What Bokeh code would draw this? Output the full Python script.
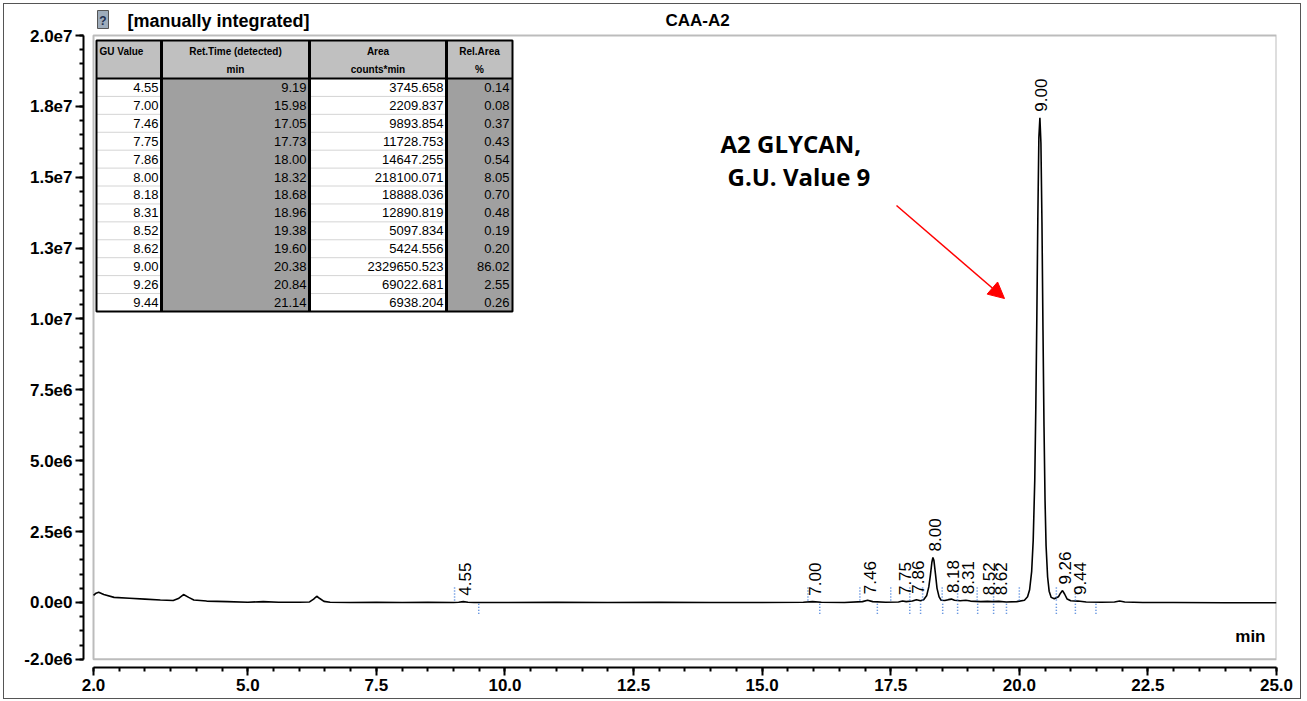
import numpy as np
from bokeh.plotting import figure
from bokeh.layouts import column
from bokeh.models import Range1d, FixedTicker, BoxAnnotation, Arrow, NormalHead
from bokeh.core.properties import value
from bokeh.embed import file_html
from bokeh.resources import INLINE

# ---------------- data ----------------
gu_values = [4.55, 7.00, 7.46, 7.75, 7.86, 8.00, 8.18, 8.31, 8.52, 8.62, 9.00, 9.26, 9.44]
ret_times = [9.19, 15.98, 17.05, 17.73, 18.00, 18.32, 18.68, 18.96, 19.38, 19.60, 20.38, 20.84, 21.14]
areas = [3745.658, 2209.837, 9893.854, 11728.753, 14647.255, 218100.071, 18888.036,
         12890.819, 5097.834, 5424.556, 2329650.523, 69022.681, 6938.204]
rel_areas = [0.14, 0.08, 0.37, 0.43, 0.54, 8.05, 0.70, 0.48, 0.19, 0.20, 86.02, 2.55, 0.26]
# apex heights of the labelled peaks (counts)
peak_heights = [0.03e6, 0.03e6, 0.08e6, 0.05e6, 0.10e6, 1.59e6, 0.12e6, 0.08e6,
                0.04e6, 0.04e6, 17.1e6, 0.42e6, 0.05e6]
# integration delimiters (min)
peak_start = [9.02, 15.89, 16.90, 17.50, 17.87, 18.12, 18.50, 18.80, 19.18, 19.50, 20.00, 20.72, 21.09]
peak_end = [9.49, 16.12, 17.24, 17.87, 18.08, 18.51, 18.80, 19.19, 19.50, 19.75, 20.72, 21.09, 21.49]

# chromatogram trace (min, counts in 1e6)
trace_t = [2.00, 2.05, 2.10, 2.20, 2.40, 2.70, 3.00, 3.30, 3.55, 3.65, 3.75, 3.85, 3.95, 4.20,
           4.60, 5.00, 5.30, 5.60, 6.00, 6.20, 6.28, 6.34, 6.40, 6.48, 6.60, 7.00, 7.50, 8.00,
           8.50, 9.00, 9.10, 9.19, 9.28, 9.40, 10.0, 11.0, 12.0, 13.0, 14.0, 15.0, 15.80, 15.98,
           16.15, 16.60, 16.95, 17.05, 17.15, 17.40, 17.65, 17.73, 17.80, 17.92, 18.00, 18.08,
           18.14, 18.20, 18.24, 18.27, 18.30, 18.32, 18.34, 18.37, 18.40, 18.44, 18.48, 18.55,
           18.62, 18.68, 18.74, 18.85, 18.96, 19.05, 19.25, 19.38, 19.48, 19.60, 19.75, 19.95,
           20.10, 20.16, 20.20, 20.24, 20.27, 20.30, 20.32, 20.34, 20.36, 20.38, 20.40, 20.42,
           20.44, 20.46, 20.48, 20.50, 20.52, 20.55, 20.58, 20.62, 20.68, 20.76, 20.80, 20.84,
           20.88, 20.93, 21.00, 21.14, 21.30, 21.60, 21.85, 21.95, 22.05, 22.40, 23.0, 24.0, 25.0]
trace_y = [0.25, 0.33, 0.36, 0.28, 0.18, 0.15, 0.12, 0.09, 0.07, 0.14, 0.28, 0.18, 0.09, 0.05,
           0.03, 0.01, 0.03, 0.01, 0.01, 0.02, 0.12, 0.22, 0.14, 0.04, 0.01, 0.00, 0.01, 0.00,
           0.01, 0.00, 0.01, 0.03, 0.01, 0.00, 0.00, 0.01, 0.00, 0.01, 0.00, 0.00, 0.01, 0.03,
           0.01, 0.00, 0.03, 0.08, 0.03, 0.01, 0.02, 0.05, 0.03, 0.05, 0.10, 0.06,
           0.10, 0.25, 0.55, 0.95, 1.42, 1.59, 1.48, 1.00, 0.50, 0.20, 0.08, 0.07,
           0.10, 0.12, 0.08, 0.06, 0.08, 0.05, 0.03, 0.04, 0.03, 0.04, 0.02, 0.03,
           0.08, 0.20, 0.45, 1.10, 2.20, 4.30, 6.80, 10.0, 13.6, 16.4, 17.1, 16.2,
           13.4, 9.6, 6.2, 3.6, 2.0, 0.9, 0.4, 0.18, 0.13, 0.20, 0.33, 0.42,
           0.30, 0.12, 0.06, 0.05, 0.02, 0.01, 0.02, 0.05, 0.02, 0.00, 0.00, -0.01, -0.01]

x_ticks = [2.0, 5.0, 7.5, 10.0, 12.5, 15.0, 17.5, 20.0, 22.5, 25.0]
x_tick_labels = ["2.0", "5.0", "7.5", "10.0", "12.5", "15.0", "17.5", "20.0", "22.5", "25.0"]
y_ticks = [-2.0e6, 0.0, 2.5e6, 5.0e6, 7.5e6, 1.0e7, 1.25e7, 1.5e7, 1.75e7, 2.0e7]
y_tick_labels = ["-2.0e6", "0.0e0", "2.5e6", "5.0e6", "7.5e6", "1.0e7", "1.3e7", "1.5e7", "1.8e7", "2.0e7"]

title_left = "[manually integrated]"
title_center = "CAA-A2"
annotation_lines = ["A2 GLYCAN,", "G.U. Value 9"]
table_header_1 = ["GU Value", "Ret.Time (detected)", "Area", "Rel.Area"]
table_header_2 = ["", "min", "counts*min", "%"]

# ---------------- figure ----------------
FONT = value("Liberation Sans")
p = figure(width=1296, height=694, output_backend="svg", toolbar_location=None,
           x_range=Range1d(1.8056, 25.0), y_range=Range1d(-2.293e6, 21.0935e6),
           min_border_left=79, min_border_right=24, min_border_top=0, min_border_bottom=31)
p.extra_x_ranges = {"px": Range1d(83, 1276)}
p.extra_y_ranges = {"px": Range1d(667, 4)}
p.outline_line_color = None
p.xgrid.visible = False
p.ygrid.visible = False

for ax in (p.xaxis[0], p.yaxis[0]):
    ax.axis_line_width = 2
    ax.axis_line_color = "black"
    ax.major_tick_line_width = 2
    ax.minor_tick_line_width = 2
    ax.major_tick_in = 0
    ax.minor_tick_in = 0
    ax.major_tick_out = 8
    ax.minor_tick_out = 4
    ax.major_label_text_font = "Liberation Sans"
    ax.major_label_text_font_style = "bold"
    ax.major_label_text_font_size = "17px"
    ax.major_label_text_color = "black"
    ax.major_label_standoff = 3

p.xaxis[0].bounds = (2.0, 25.0)
p.xaxis[0].ticker = FixedTicker(ticks=x_ticks,
                                minor_ticks=[2.0 + 0.5 * i for i in range(47)])
p.xaxis[0].major_label_overrides = {float(t): s for t, s in zip(x_ticks, x_tick_labels)}
p.yaxis[0].bounds = (-2.0e6, 2.0e7)
p.yaxis[0].ticker = FixedTicker(ticks=y_ticks,
                                minor_ticks=[-2.0e6 + 0.5e6 * i for i in range(45)])
p.yaxis[0].major_label_overrides = {float(t): s for t, s in zip(y_ticks, y_tick_labels)}

# plot box
p.add_layout(BoxAnnotation(left=2.0, right=25.0, bottom=-2.0e6, top=2.0e7,
                           fill_color=None, line_color="#222222", line_width=2))

# trace
p.line(trace_t, [v * 1e6 for v in trace_y], line_color="black", line_width=1.6)

# integration delimiters
n = len(peak_start)
p.segment(x0=peak_start, y0=[0.07e6] * n, x1=peak_start, y1=[0.53e6] * n,
          line_color="#3c78d8", line_width=1.5, line_dash="1 2")
p.segment(x0=peak_end, y0=[-0.04e6] * n, x1=peak_end, y1=[-0.46e6] * n,
          line_color="#3c78d8", line_width=1.5, line_dash="1 2")

# peak labels
p.text(x=ret_times, y=peak_heights, text=[f"{g:.2f}" for g in gu_values],
       angle=np.pi / 2, text_align="left", text_baseline="middle",
       x_offset=2, y_offset=-6, text_font=FONT, text_font_size="17px", text_color="black")

# ---------------- overlay (pixel coordinates) ----------------
PX = dict(x_range_name="px", y_range_name="px")

# icon + titles
p.quad(left=[97], right=[108], top=[10], bottom=[28], fill_color="#9eacbb",
       line_color="#555555", line_width=1, **PX)
p.text(x=[102.5], y=[20], text=["?"], text_align="center", text_baseline="middle",
       text_font=FONT, text_font_style="bold", text_font_size="12px", text_color="#1f2f4f", **PX)
p.text(x=[127], y=[20], text=[title_left], text_align="left", text_baseline="middle",
       text_font=FONT, text_font_style="bold", text_font_size="18px", text_color="black", **PX)
p.text(x=[697], y=[20], text=[title_center], text_align="center", text_baseline="middle",
       text_font=FONT, text_font_style="bold", text_font_size="17px", text_color="black", **PX)
p.text(x=[1265], y=[636], text=["min"], text_align="right", text_baseline="middle",
       text_font=FONT, text_font_style="bold", text_font_size="17px", text_color="black", **PX)

# annotation
p.text(x=[720, 727], y=[143, 176], text=annotation_lines, text_align="left",
       text_baseline="middle", text_font=value("Open Sans"), text_font_style="bold",
       text_font_size="24px", text_color="black", **PX)
p.add_layout(Arrow(x_start=896, y_start=205, x_end=1004, y_end=298,
                   line_color="red", line_width=1.5,
                   end=NormalHead(size=16, fill_color="red", line_color="red"), **PX))

# table
col_x = [96, 161, 309, 446, 512]
head_top, head_bot = 40, 78
row_h = 17.92
nrows = len(gu_values)
tab_bot = head_bot + nrows * row_h
row_tops = [head_bot + i * row_h for i in range(nrows)]
row_mid = [t + row_h / 2 for t in row_tops]

p.quad(left=[col_x[0]], right=[col_x[4]], top=[head_top], bottom=[head_bot],
       fill_color="#c0c0c0", line_color=None, **PX)
col_fill = ["white", "#a0a0a0", "white", "#a0a0a0"]
for j in range(4):
    p.quad(left=[col_x[j]], right=[col_x[j + 1]], top=[head_bot], bottom=[tab_bot],
           fill_color=col_fill[j], line_color=None, **PX)
# row separators in white columns
for j in (0, 2):
    p.segment(x0=[col_x[j]] * (nrows - 1), x1=[col_x[j + 1]] * (nrows - 1),
              y0=row_tops[1:], y1=row_tops[1:], line_color="#d4d4d4", line_width=1, **PX)
# thick column separators and border
p.segment(x0=col_x[1:4], x1=col_x[1:4], y0=[head_top] * 3, y1=[tab_bot] * 3,
          line_color="black", line_width=3, **PX)
p.segment(x0=[col_x[0]], x1=[col_x[4]], y0=[head_bot], y1=[head_bot],
          line_color="black", line_width=2, **PX)
p.quad(left=[col_x[0]], right=[col_x[4]], top=[head_top], bottom=[tab_bot],
       fill_color=None, line_color="black", line_width=2, **PX)

# header text
p.text(x=[99], y=[51], text=[table_header_1[0]], text_align="left", text_baseline="middle",
       text_font=FONT, text_font_style="bold", text_font_size="10px", text_color="black", **PX)
centers = [(col_x[j] + col_x[j + 1]) / 2 for j in range(1, 4)]
p.text(x=centers, y=[51] * 3, text=table_header_1[1:], text_align="center",
       text_baseline="middle", text_font=FONT, text_font_style="bold",
       text_font_size="10px", text_color="black", **PX)
p.text(x=centers, y=[69] * 3, text=table_header_2[1:], text_align="center",
       text_baseline="middle", text_font=FONT, text_font_style="bold",
       text_font_size="10px", text_color="black", **PX)

# cell text
cols_text = [[f"{v:.2f}" for v in gu_values], [f"{v:.2f}" for v in ret_times],
             [f"{v:.3f}" for v in areas], [f"{v:.2f}" for v in rel_areas]]
for j in range(4):
    p.text(x=[col_x[j + 1] - 3] * nrows, y=row_mid, text=cols_text[j], text_align="right",
           text_baseline="middle", text_font=FONT, text_font_size="13px",
           text_color="black", **PX)

# outer frame around the whole picture
page = column(p, styles={"border": "1px solid #555555", "margin": "3px"})

open("out.html", "w").write(file_html(page, INLINE))
